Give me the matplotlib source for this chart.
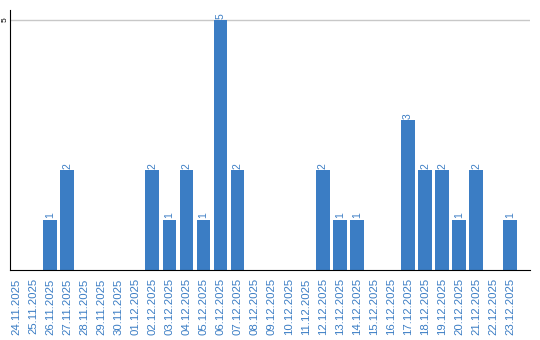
import matplotlib.pyplot as plt
import numpy as np

plt.rcParams['font.family'] = ['Liberation Sans', 'DejaVu Sans']

dates = ['24.11.2025', '25.11.2025', '26.11.2025', '27.11.2025', '28.11.2025',
         '29.11.2025', '30.11.2025', '01.12.2025', '02.12.2025', '03.12.2025',
         '04.12.2025', '05.12.2025', '06.12.2025', '07.12.2025', '08.12.2025',
         '09.12.2025', '10.12.2025', '11.12.2025', '12.12.2025', '13.12.2025',
         '14.12.2025', '15.12.2025', '16.12.2025', '17.12.2025', '18.12.2025',
         '19.12.2025', '20.12.2025', '21.12.2025', '22.12.2025', '23.12.2025']
counts = [0, 0, 1, 2, 0, 0, 0, 0, 2, 1, 2, 1, 5, 2, 0, 0, 0, 0, 2, 1, 1, 0, 0,
          3, 2, 2, 1, 2, 0, 1]

blue = '#3b7dc4'
fig = plt.figure(figsize=(5.4, 3.4), dpi=100)
ax = fig.add_axes([10 / 540, 70 / 340, 520 / 540, 260 / 340])

x = np.arange(len(dates))
ax.bar(x, counts, width=0.8, color=blue, zorder=2)
for xi, v in zip(x, counts):
    if v > 0:
        ax.text(xi, v + 0.03, str(v), rotation=90, ha='center', va='bottom',
                fontsize=7.5, color=blue)

ax.set_xlim(-0.35, 30.16)
ax.set_ylim(0, 5.2)
ax.set_yticks([5])
ax.set_yticklabels(['5'], rotation=90, va='center', fontsize=6)
ax.yaxis.grid(True, color='#c8c8c8', linewidth=1, zorder=0)
ax.tick_params(axis='y', length=0, pad=1)
ax.set_xticks(x)
ax.set_xticklabels(dates, rotation=90, fontsize=8.2, color=blue)
ax.tick_params(axis='x', length=0, pad=6)
for s in ['top', 'right']:
    ax.spines[s].set_visible(False)
ax.spines['left'].set_color('black')
ax.spines['bottom'].set_color('black')

plt.savefig('out.png', dpi=100)
